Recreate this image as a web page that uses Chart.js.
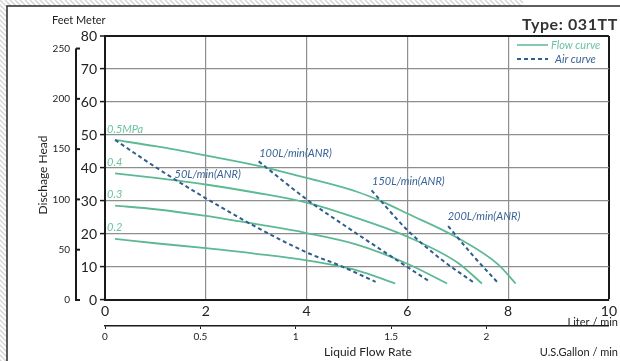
<!DOCTYPE html>
<html><head><meta charset="utf-8">
<script src="https://cdn.jsdelivr.net/npm/chart.js@4.4.1/dist/chart.umd.min.js"></script>
<style>html,body{margin:0;padding:0;background:#fff;}#wrap{width:620px;height:361px;position:relative;}</style>
</head><body><div id="wrap"><canvas id="c" width="620" height="361"></canvas></div>
<script>
// ---- data ----
const pressureNames = ['0.5MPa', '0.4', '0.3', '0.2'];
const flow05X = [0.2, 1, 2, 3, 4, 5, 5.5, 6, 7, 7.8, 8.15];
const flow05Y = [48.5, 46.6, 43.8, 40.8, 37, 32.8, 29.8, 26.2, 18.8, 10.8, 5];
const flow04X = [0.2, 1, 2, 3, 4, 5, 6, 7, 7.48];
const flow04Y = [38.4, 37, 35, 32.5, 29.5, 24.8, 19.2, 11.3, 5];
const flow03X = [0.2, 1, 2, 3, 4, 5, 6, 6.79];
const flow03Y = [28.6, 27.5, 25.5, 23, 20.3, 16.8, 11, 5];
const flow02X = [0.2, 1, 2, 3, 4, 5, 5.76];
const flow02Y = [18.5, 17.2, 15.7, 14, 12, 9, 5];

const airNames = ['50L/min(ANR)', '100L/min(ANR)', '150L/min(ANR)', '200L/min(ANR)'];
const air50X = [0.2, 1, 1.95, 3.05, 4.05, 4.65, 5.37];
const air50Y = [48.5, 40.3, 31.3, 21.7, 14.1, 10.5, 5.5];
const air100X = [3.05, 4.02, 4.84, 5.65, 6.45];
const air100Y = [42, 30.3, 21.7, 13.5, 5.5];
const air150X = [5.29, 6, 6.69, 7.3];
const air150Y = [33.2, 21.2, 12.1, 5.5];
const air200X = [6.81, 7.3, 7.81];
const air200Y = [22.4, 13.5, 5];

const meterTickStep = 10;            // Meter axis
const feetTicks = [0, 50, 100, 150, 200, 250];
const literTickStep = 2;             // Liter/min axis
const gallonTicks = [0, 0.5, 1, 1.5, 2];
const M_MAX = 80, L_MAX = 10;
const FT_PER_M = 3.28084, L_PER_GAL = 3.78541;

// ---- styles / label anchors (not data) ----
const GREEN = '#5cb993', BLUE = '#2f5d8e', GREEN_TXT = '#6cc3a0', BLUE_TXT = '#3a6397';
const FONT = "Lato, 'Noto Sans', sans-serif";
const pressureLabelPos = [[0.04, 51.8], [0.04, 41.6], [0.04, 32.1], [0.04, 21.9]];
const airLabelPos = [[1.38, 37.9], [3.06, 44.5], [5.3, 36], [6.8, 25.2]];

const zip = (xs, ys) => xs.map((x, i) => ({x, y: ys[i]}));
const flowSets = [[flow05X, flow05Y], [flow04X, flow04Y], [flow03X, flow03Y], [flow02X, flow02Y]];
const airSets = [[air50X, air50Y], [air100X, air100Y], [air150X, air150Y], [air200X, air200Y]];

const datasets = [];
airSets.forEach((s, i) => datasets.push({
  label: airNames[i], data: zip(s[0], s[1]), showLine: true, pointRadius: 0,
  borderColor: BLUE, borderWidth: 2, borderDash: [4, 3], cubicInterpolationMode: 'monotone', fill: false
}));
flowSets.forEach((s, i) => datasets.push({
  label: pressureNames[i], data: zip(s[0], s[1]), showLine: true, pointRadius: 0,
  borderColor: GREEN, borderWidth: 1.8, cubicInterpolationMode: 'monotone', fill: false
}));

const gridCol = (isFrame) => (ctx) => (ctx.tick && isFrame(ctx.tick.value)) ? '#1a1a1a' : '#8e8e8e';
const gridW = (isFrame) => (ctx) => (ctx.tick && isFrame(ctx.tick.value)) ? 2 : 1.2;

const deco = {
  id: 'deco',
  beforeDraw(chart) {
    const c = chart.ctx;
    c.save();
    c.fillStyle = '#fff'; c.fillRect(0, 0, 620, 361);
    c.beginPath(); c.rect(0, 0, 523, 6); c.rect(0, 0, 7, 361); c.clip();
    c.strokeStyle = '#d6d6d6'; c.lineWidth = 1.5;
    for (let k = -400; k < 700; k += 5) { c.beginPath(); c.moveTo(k, 0); c.lineTo(k + 400, 400); c.stroke(); }
    c.restore();
    c.save();
    c.strokeStyle = '#2a2a2a'; c.lineWidth = 1.5;
    c.beginPath(); c.moveTo(7, 361); c.lineTo(7, 6); c.lineTo(620, 6); c.stroke();
    c.restore();
  },
  afterDraw(chart) {
    const c = chart.ctx, sx = chart.scales.x, sy = chart.scales.y, sf = chart.scales.yFeet;
    c.save();
    const fx = 76;
    c.strokeStyle = '#1a1a1a'; c.lineWidth = 2;
    c.beginPath(); c.moveTo(fx, sf.getPixelForValue(0) + 1); c.lineTo(fx, sf.getPixelForValue(feetTicks[feetTicks.length - 1])); c.stroke();
    feetTicks.forEach(v => {
      const py = sf.getPixelForValue(v);
      c.beginPath(); c.moveTo(fx, py); c.lineTo(fx + 4, py); c.stroke();
    });
    c.fillStyle = '#222'; c.textBaseline = 'middle';
    c.font = `11px ${FONT}`; c.textAlign = 'left'; c.fillText('Feet Meter', 52, 20);
    c.save();
    c.font = `bold 16px ${FONT}`; c.textAlign = 'right'; c.fillStyle = '#333';
    try { c.letterSpacing = '0.6px'; } catch (e) {}
    c.fillText('Type: 031TT', 618, 25);
    c.restore();
    c.fillStyle = '#222';
    c.font = `11px ${FONT}`; c.textAlign = 'right'; c.fillText('Liter / min', 618, 322);
    c.fillText('U.S.Gallon / min', 618, 352);
    c.font = `12px ${FONT}`; c.textAlign = 'center'; c.fillText('Liquid Flow Rate', 368, 352);
    c.save(); c.translate(43, 175); c.rotate(-Math.PI / 2); c.fillText('Dischage Head', 0, 0); c.restore();
    c.lineWidth = 1.5; c.strokeStyle = GREEN;
    c.beginPath(); c.moveTo(517, 45); c.lineTo(548, 45); c.stroke();
    c.strokeStyle = BLUE; c.setLineDash([4, 3]); c.lineWidth = 1.8;
    c.beginPath(); c.moveTo(517, 59); c.lineTo(548, 59); c.stroke();
    c.setLineDash([]);
    c.font = `italic 11px ${FONT}`; c.textAlign = 'left';
    c.fillStyle = GREEN_TXT; c.fillText('Flow curve', 551, 45);
    c.fillStyle = BLUE_TXT; c.fillText('Air curve', 555, 59);
    pressureNames.forEach((t, i) => {
      c.fillStyle = GREEN_TXT;
      c.fillText(t, sx.getPixelForValue(pressureLabelPos[i][0]), sy.getPixelForValue(pressureLabelPos[i][1]));
    });
    airNames.forEach((t, i) => {
      c.fillStyle = BLUE_TXT;
      c.fillText(t, sx.getPixelForValue(airLabelPos[i][0]), sy.getPixelForValue(airLabelPos[i][1]));
    });
    c.restore();
  }
};

new Chart(document.getElementById('c'), {
  type: 'scatter',
  data: { datasets },
  options: {
    responsive: false, animation: false, devicePixelRatio: 1,
    layout: { padding: { left: 0, right: 9, top: 36, bottom: 10 } },
    plugins: { legend: { display: false }, tooltip: { enabled: false } },
    scales: {
      x: {
        type: 'linear', position: 'bottom', weight: 0, min: 0, max: L_MAX,
        ticks: { stepSize: literTickStep, font: { family: FONT, size: 14 }, color: '#222', padding: 3, maxRotation: 0, autoSkip: false, includeBounds: false },
        grid: { color: gridCol(v => v === L_MAX), lineWidth: gridW(v => v === L_MAX), drawTicks: false },
        border: { color: '#1a1a1a', width: 2 },
        afterFit: s => { s.height = 26; }
      },
      x2: {
        type: 'linear', position: 'bottom', weight: 1, min: 0, max: L_MAX / L_PER_GAL,
        afterBuildTicks: s => { s.ticks = gallonTicks.map(v => ({ value: v })); },
        ticks: { callback: v => String(v), font: { family: FONT, size: 10 }, color: '#222', padding: 2, maxRotation: 0, autoSkip: false },
        grid: { drawOnChartArea: false, drawTicks: true, tickLength: 3, tickColor: '#1a1a1a' },
        border: { color: '#1a1a1a', width: 1.5 },
        afterFit: s => { s.height = 25; }
      },
      y: {
        type: 'linear', position: 'left', weight: 0, min: 0, max: M_MAX,
        ticks: { stepSize: meterTickStep, font: { family: FONT, size: 14 }, color: '#222', padding: 3, includeBounds: false },
        grid: { color: gridCol(v => v === M_MAX), lineWidth: gridW(v => v === M_MAX), tickLength: 5, tickColor: '#1a1a1a', tickWidth: 1.5 },
        border: { color: '#1a1a1a', width: 2 },
        afterFit: s => { s.width = 29; }
      },
      yFeet: {
        type: 'linear', position: 'left', weight: 1, min: 0, max: M_MAX * FT_PER_M,
        afterBuildTicks: s => { s.ticks = feetTicks.map(v => ({ value: v })); },
        ticks: { callback: v => String(v), font: { family: FONT, size: 10 }, color: '#222', padding: 6 },
        grid: { drawOnChartArea: false, drawTicks: false },
        border: { display: false },
        afterFit: s => { s.width = 76; }
      }
    }
  },
  plugins: [deco]
});
</script></body></html>
